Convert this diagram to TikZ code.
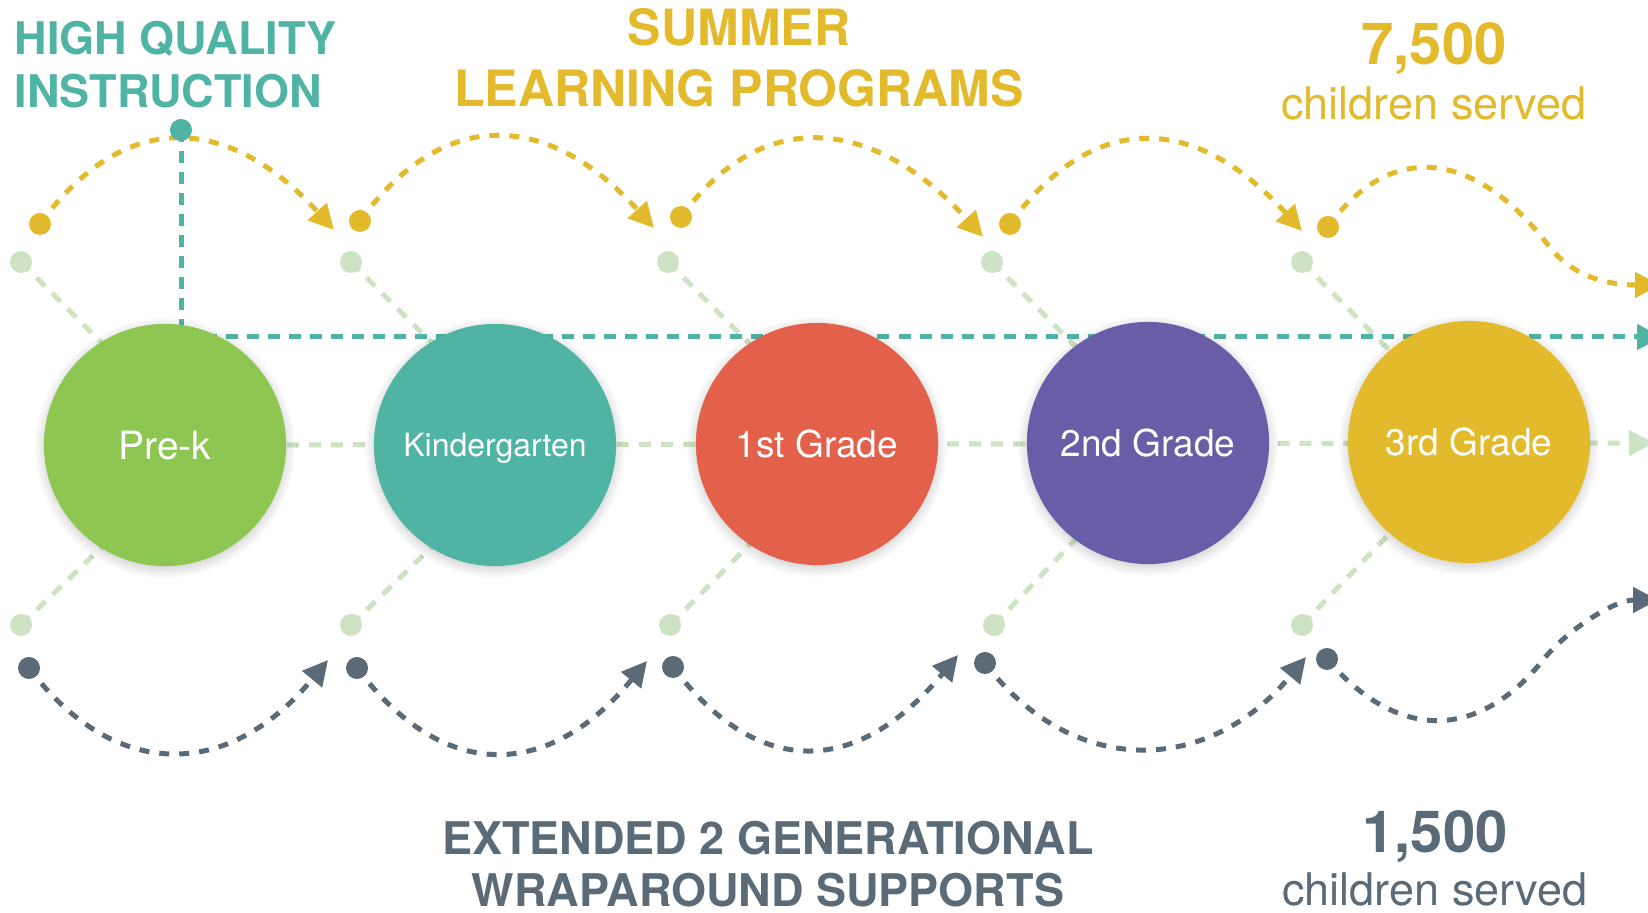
\documentclass[tikz,border=0pt]{standalone}
\usepackage{fontspec}
\setmainfont{TeX Gyre Heros}
\usetikzlibrary{calc, positioning, arrows.meta, backgrounds, shadows.blur}

\definecolor{prekgreen}{HTML}{8DC651}
\definecolor{kteal}{HTML}{50B4A4}
\definecolor{firstred}{HTML}{E3604A}
\definecolor{secondpurple}{HTML}{6A5DA7}
\definecolor{thirdyellow}{HTML}{E3BA2B}
\definecolor{slate}{HTML}{5A6B77}
\definecolor{palegreen}{HTML}{CDE3C3}

\newlength{\pxunit}
\setlength{\pxunit}{0.01cm}
\newcommand{\pxfont}[2]{\fontsize{#1\pxunit}{#2\pxunit}\selectfont}

\begin{document}
\begin{tikzpicture}[x=0.01cm, y=-0.01cm,
    grade/.style={circle, minimum size=2.42cm, inner sep=0pt, text=white, text depth=0pt,
                  blur shadow={shadow xshift=0pt, shadow yshift=-0.03cm, shadow blur radius=0.1cm,
                               shadow blur steps=10, shadow opacity=22}},
    sdot/.style={circle, inner sep=0pt, minimum size=0.22cm},
    trail/.style={line width=0.05cm, dash pattern=on 0.1cm off 0.1cm},
    guide/.style={palegreen, line width=0.05cm, dash pattern=on 0.12cm off 0.1cm},
    arrowhead/.style={-{Triangle[length=0.25cm, width=0.25cm]}}]

    \useasboundingbox (0,0) rectangle (1648,913); % same size as the source image, 1px = 0.01cm

    % the five grades
    \node [grade, fill=prekgreen]    (prek)   at (165,445)  {\pxfont{39}{45}Pre-k};
    \node [grade, fill=kteal]        (kinder) at (495,445)  {\pxfont{32}{38}Kindergarten};
    \node [grade, fill=firstred]     (first)  at (817,444)  {\pxfont{37}{44}1st Grade};
    \node [grade, fill=secondpurple] (second) at (1148,443) {\pxfont{37}{44}2nd Grade};
    \node [grade, fill=thirdyellow]  (third)  at (1469,442) {\pxfont{37}{44}3rd Grade};

    % pale guide lines and the instruction line run behind the circles
    \begin{scope}[on background layer]
        \coordinate (guideend) at (1654,443);
        \draw [guide, arrowhead] (prek) -- (guideend);

        \foreach \c/\ux/\uang/\lx/\lang in {prek/21/122/21/238, kinder/351/122/351/238,
                                          first/668/124/670/236, second/992/127/994/233,
                                          third/1302/131/1302/229} {
            \node [sdot, fill=palegreen] (up\c) at (\ux,262) {};
            \node [sdot, fill=palegreen] (lo\c) at (\lx,625) {};
            \draw [guide, shorten >=-0.2cm] (up\c.center) -- (\c.\uang);
            \draw [guide, shorten >=-0.2cm] (lo\c.center) -- (\c.\lang);
        }

        \coordinate (hqend) at (1662,337);
        \draw [kteal, trail, dash pattern=on 0.12cm off 0.09cm, arrowhead] (181,130) |- (hqend);
    \end{scope}

    % summer learning hops over the top
    \begin{scope}[thirdyellow]
        \foreach \i/\sx/\sy/\ex/\ey in {1/40/224/334/230, 2/360/221/654/228,
                                        3/681/217/983/237, 4/1010/224/1302/231} {
            \node [sdot, fill=thirdyellow] (sum\i) at (\sx,\sy) {};
            \coordinate (sumend\i) at (\ex,\ey);
            \draw [trail, arrowhead] (sum\i.center) .. controls +(82,-113) and +(-108,-119) .. (sumend\i);
        }
        \node [sdot, fill=thirdyellow] (sum5) at (1328,227) {};
        \coordinate (sumend5) at (1660,285);
        \draw [trail, arrowhead] (sum5.center) .. controls (1390,140) and (1475,150) .. (1548,245)
                                              .. controls (1573,278) and (1610,285) .. (sumend5);
    \end{scope}

    % wraparound supports loop underneath
    \begin{scope}[slate]
        \foreach \i/\sx/\sy/\ex/\ey in {1/29/668/328/660, 2/357/668/647/661,
                                        3/673/667/958/655, 4/985/663/1306/657} {
            \node [sdot, fill=slate] (wrap\i) at (\sx,\sy) {};
            \coordinate (wrapend\i) at (\ex,\ey);
            \draw [trail, arrowhead] (wrap\i.center) .. controls +(85,113) and +(-100,121) .. (wrapend\i);
        }
        \node [sdot, fill=slate] (wrap5) at (1327,659) {};
        \coordinate (wrapend5) at (1658,600);
        \draw [trail, arrowhead] (wrap5.center) .. controls (1397,741) and (1478,741) .. (1543,660)
                                               .. controls (1565,632) and (1613,600) .. (wrapend5);
    \end{scope}

    \node [sdot, fill=kteal] (hq) at (181,130) {};

    % headings and counts
    \begin{scope}[every node/.style={inner sep=0pt}]
        \node [kteal, anchor=north west, align=left, font=\bfseries\pxfont{45}{53}] (hqtitle) at (14,20)
            {HIGH QUALITY\\INSTRUCTION};
        \node [thirdyellow, anchor=north, align=center, font=\bfseries\pxfont{50}{61}] (summertitle) at (739,8)
            {SUMMER\\LEARNING PROGRAMS};
        \node [slate, anchor=north, align=center, font=\bfseries\pxfont{45}{52}] (wraptitle) at (768,820)
            {EXTENDED 2 GENERATIONAL\\WRAPAROUND SUPPORTS};

        \node [thirdyellow, anchor=base, font=\bfseries\pxfont{58}{64}] (summercount) at (1434,65) {7,500};
        \node [thirdyellow, anchor=base, font=\pxfont{45}{52}] (summerserved) at ($(summercount.base)+(0,55)$) {children served};
        \node [slate, anchor=base, font=\bfseries\pxfont{58}{64}] (wrapcount) at (1435,853) {1,500};
        \node [slate, anchor=base, font=\pxfont{45}{52}] (wrapserved) at ($(wrapcount.base)+(0,53)$) {children served};
    \end{scope}

\end{tikzpicture}
\end{document}
